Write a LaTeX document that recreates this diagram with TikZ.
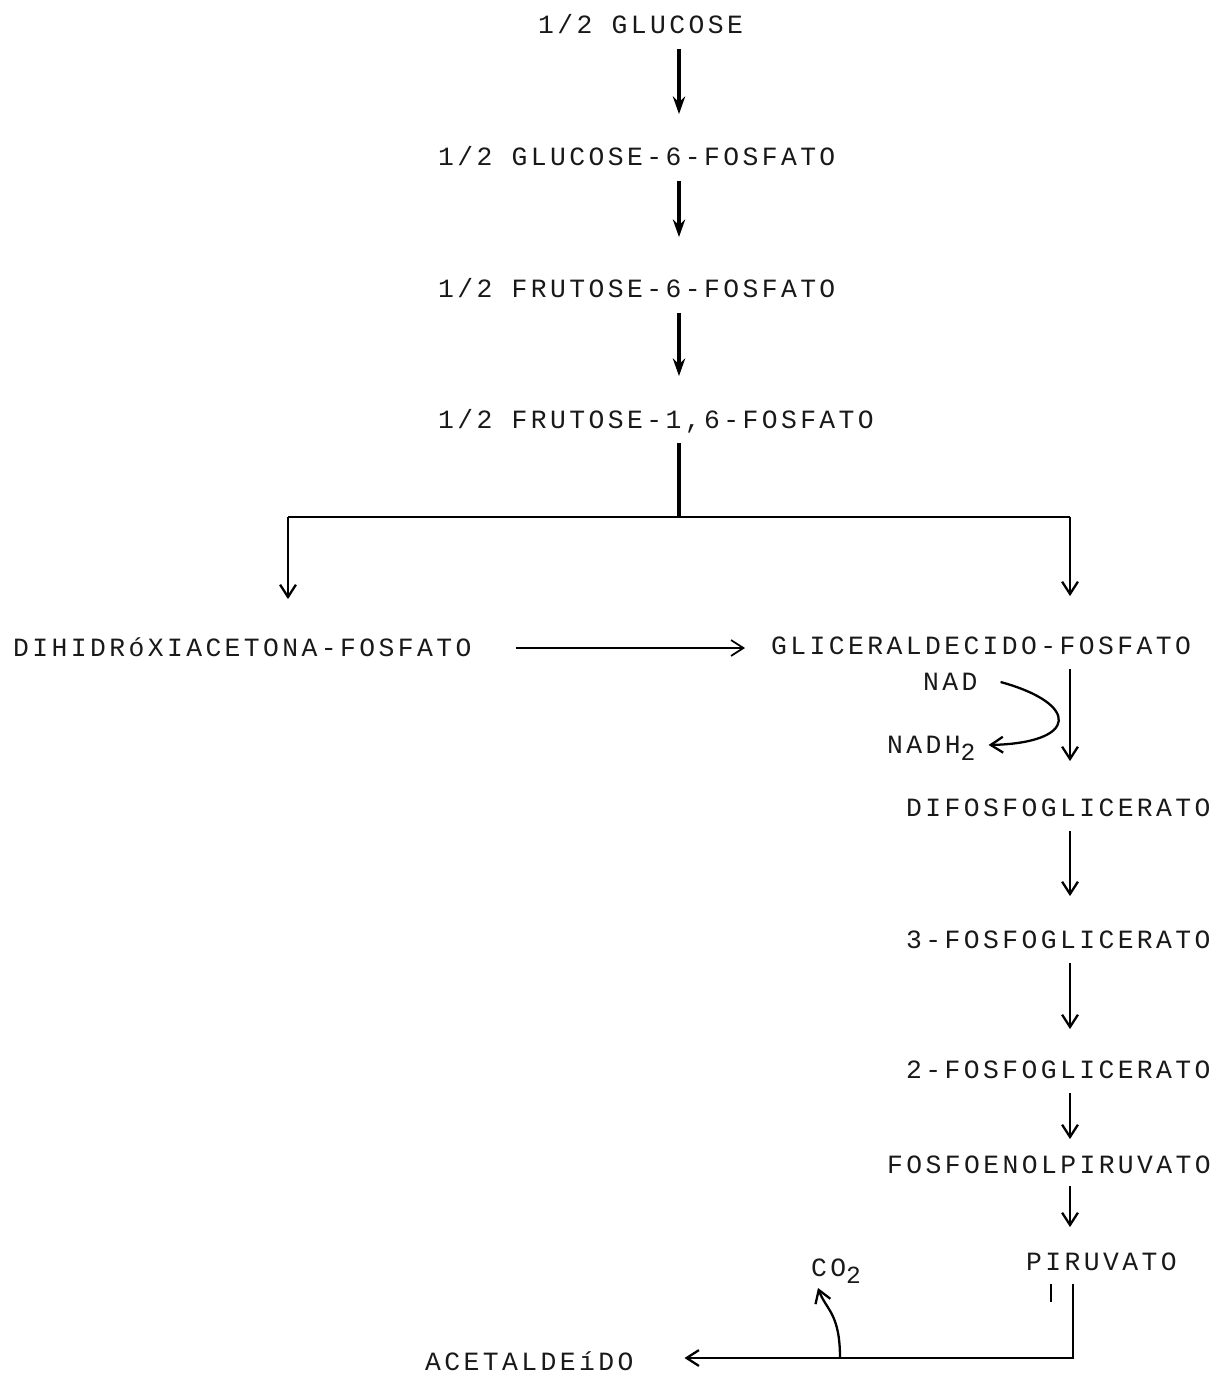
\documentclass[tikz,border=0pt]{standalone}
\usepackage{fontspec}
\newfontfamily\dotmatrix[LetterSpace=13]{Liberation Mono}
\newcommand\subidx[1]{\raisebox{-0.45ex}{\fontsize{14}{14}\selectfont #1}}
\usetikzlibrary{arrows.meta}

\begin{document}
\begin{tikzpicture}[x=0.02cm, y=-0.02cm, line width=1.3pt,
  comp/.style={anchor=west, inner sep=0pt, text height=10pt, text depth=0pt,
    font={\dotmatrix\fontsize{15}{18}\selectfont}, text=black!90},
  flow/.style={-{Straight Barb[length=7pt,width=9pt]}},
  heavy/.style={line width=1.8pt, -{Stealth[length=10pt,width=7pt]}}]
\useasboundingbox (0,0) rectangle (1225,1376);

% compounds
\node[comp] (glc) at (537,25) {1/2 GLUCOSE};
\node[comp] (g6p) at (437,157) {1/2 GLUCOSE-6-FOSFATO};
\node[comp] (f6p) at (437,289) {1/2 FRUTOSE-6-FOSFATO};
\node[comp] (f16) at (437,420) {1/2 FRUTOSE-1,6-FOSFATO};
\node[comp] (dhap) at (12,648) {DIHIDRóXIACETONA-FOSFATO};
\node[comp] (gap) at (770,646) {GLICERALDECIDO-FOSFATO};
\node[comp] (nad) at (922,682) {NAD};
\node[comp] (nadh) at (886,745) {NADH\subidx{2}};
\node[comp] (dpg) at (905,808) {DIFOSFOGLICERATO};
\node[comp] (pg3) at (905,940) {3-FOSFOGLICERATO};
\node[comp] (pg2) at (905,1070) {2-FOSFOGLICERATO};
\node[comp] (pep) at (886,1165) {FOSFOENOLPIRUVATO};
\node[comp] (pir) at (1025,1262) {PIRUVATO};
\node[comp] (co2) at (810,1268) {CO\subidx{2}};
\node[comp] (acet) at (424,1362) {ACETALDEíDO};

\coordinate (col) at (679,0);
\coordinate (col2) at (1070,0);

%upper column
\draw[heavy, shorten <=0.28cm, shorten >=0.66cm] (glc.south -| col) -- (g6p.north -| col);
\draw[heavy, shorten <=0.28cm, shorten >=0.84cm] (g6p.south -| col) -- (f6p.north -| col);
\draw[heavy, shorten <=0.28cm, shorten >=0.68cm] (f6p.south -| col) -- (f16.north -| col);

%split
\coordinate (split) at (679,517);
\coordinate (lft) at (288,517);
\coordinate (rgt) at (1070,517);
\draw[line width=1.8pt, shorten <=0.26cm] (f16.south -| col) -- (split);
\draw (lft) -- (rgt);
\draw[flow, shorten >=0.78cm] (lft) -- (lft |- dhap.north);
\draw[flow, shorten >=0.8cm] (rgt) -- (rgt |- gap.north);
\draw[flow, line width=1pt, shorten <=0.86cm, shorten >=0.5cm] (dhap.east) -- (dhap.east -| gap.west);

%right column
\draw[flow, shorten <=0.26cm, shorten >=0.74cm] (gap.south -| col2) -- (dpg.north -| col2);
\draw[flow] ([xshift=0.44cm]nad.east) .. controls +(80,22) and +(90,-2) .. ([xshift=0.24cm]nadh.east);
\draw[flow, shorten <=0.26cm, shorten >=0.68cm] (dpg.south -| col2) -- (pg3.north -| col2);
\draw[flow, shorten <=0.26cm, shorten >=0.62cm] (pg3.south -| col2) -- (pg2.north -| col2);
\draw[flow, shorten <=0.26cm, shorten >=0.32cm] (pg2.south -| col2) -- (pep.north -| col2);
\draw[flow, shorten <=0.22cm, shorten >=0.5cm] (pep.south -| col2) -- (pir.north -| col2);

%decarboxylation
\coordinate (turn) at (1073,1358);
\coordinate (tick) at (1051,1284);
\coordinate (co2base) at (840,1358);
\draw[line width=1pt] (tick) -- ++(0,18);
\draw[flow, shorten <=0.24cm, shorten >=1.0cm] (pir.south -| turn) -- (turn) -- (turn -| acet.east);
\draw[flow] (co2base) .. controls +(0,-45) and +(8,22) .. ([shift={(8,10)}]co2.south west);
\end{tikzpicture}
\end{document}
